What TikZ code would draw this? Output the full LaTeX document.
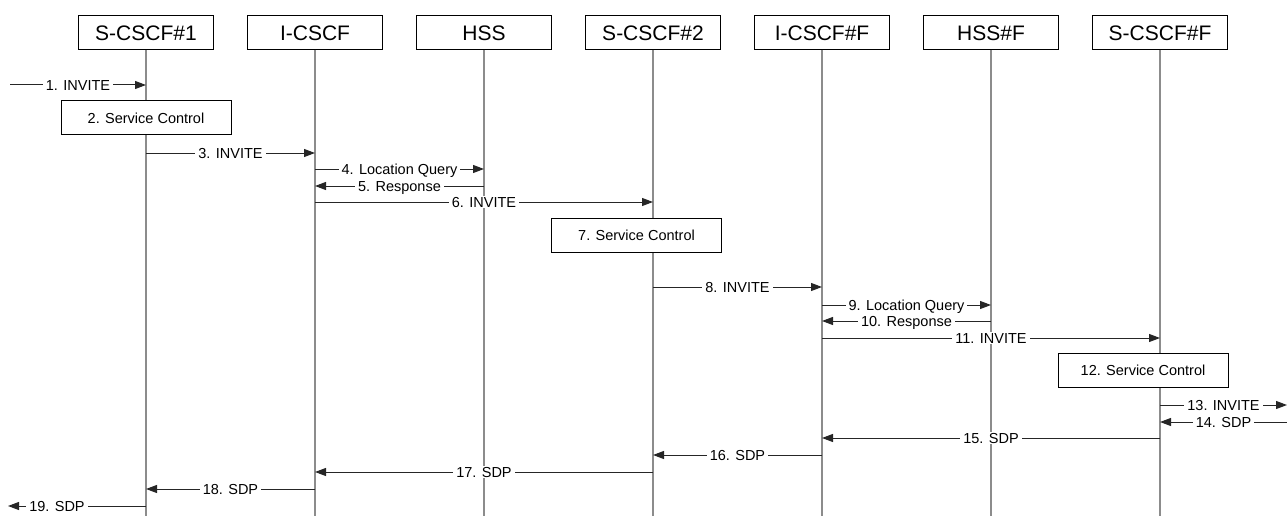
\documentclass[tikz,border=0pt]{standalone}
\usepackage{fontspec}
\setmainfont{Liberation Sans}
\usepackage{tikz}
\usetikzlibrary{arrows.meta,positioning}
\usepackage{xcolor}
\definecolor{lifegray}{RGB}{140,140,140}

\begin{document}
\begin{tikzpicture}[
  x=1pt, y=-1pt, node distance=34pt,
  ent/.style={draw, fill=white, minimum width=135pt, minimum height=34pt, inner sep=0pt, outer sep=0pt, line width=1pt, font=\fontsize{21}{24}\selectfont},
  sc/.style={draw, fill=white, minimum width=170pt, minimum height=34pt, inner sep=0pt, line width=1pt, font=\fontsize{14.5}{17}\selectfont},
  life/.style={lifegray, line width=1.6pt},
  a/.style={-{Triangle[length=11pt,width=8pt]}, line width=1pt, black!85},
  lab/.style={fill=white, text=black, inner xsep=3pt, inner ysep=0.5pt, text height=10.6pt, text depth=0pt, font=\fontsize{14.5}{17}\selectfont}
]
\useasboundingbox (0,0) rectangle (1287,516);
% entities
\node[ent] (s1) at (146,33) {S-CSCF\#1};
\node[ent, right=of s1] (ic) {I-CSCF};
\node[ent, right=of ic] (hss) {HSS};
\node[ent, right=of hss] (s2) {S-CSCF\#2};
\node[ent, right=of s2] (icf) {I-CSCF\#F};
\node[ent, right=of icf] (hssf) {HSS\#F};
\node[ent, right=of hssf] (sf) {S-CSCF\#F};
\foreach \n in {s1,ic,hss,s2,icf,hssf,sf}
  \draw[life] (\n.south) -- (\n |- 0,516);
% service control
\node[sc] (sc2) at (146,118) {2. Service Control};
\node[sc] (sc7) at (636.5,235) {7. Service Control};
\node[sc] (sc12) at (1143,370) {12. Service Control};
% outer ends
\coordinate (inL) at (10,85);
\coordinate (outR) at (1287,405);
\coordinate (inR) at (1287,422);
\coordinate (outL) at (8,506);
% messages
\draw[a] (inL) -- node[lab]{1. INVITE} (s1 |- inL);
\draw[a] (s1 |- 0,153) -- node[lab]{3. INVITE} (ic |- 0,153);
\draw[a] (ic |- 0,169) -- node[lab]{4. Location Query} (hss |- 0,169);
\draw[a] (hss |- 0,186) -- node[lab]{5. Response} (ic |- 0,186);
\draw[a] (ic |- 0,202) -- node[lab]{6. INVITE} (s2 |- 0,202);
\draw[a] (s2 |- 0,287) -- node[lab]{8. INVITE} (icf |- 0,287);
\draw[a] (icf |- 0,305) -- node[lab]{9. Location Query} (hssf |- 0,305);
\draw[a] (hssf |- 0,321) -- node[lab]{10. Response} (icf |- 0,321);
\draw[a] (icf |- 0,338) -- node[lab]{11. INVITE} (sf |- 0,338);
\draw[a] (sf |- outR) -- node[lab]{13. INVITE} (outR);
\draw[a] (inR) -- node[lab]{14. SDP} (sf |- inR);
\draw[a] (sf |- 0,438) -- node[lab]{15. SDP} (icf |- 0,438);
\draw[a] (icf |- 0,455) -- node[lab]{16. SDP} (s2 |- 0,455);
\draw[a] (s2 |- 0,472) -- node[lab]{17. SDP} (ic |- 0,472);
\draw[a] (ic |- 0,489) -- node[lab]{18. SDP} (s1 |- 0,489);
\draw[a] (s1 |- outL) -- node[lab, pos=0.645]{19. SDP} (outL);
\end{tikzpicture}
\end{document}
